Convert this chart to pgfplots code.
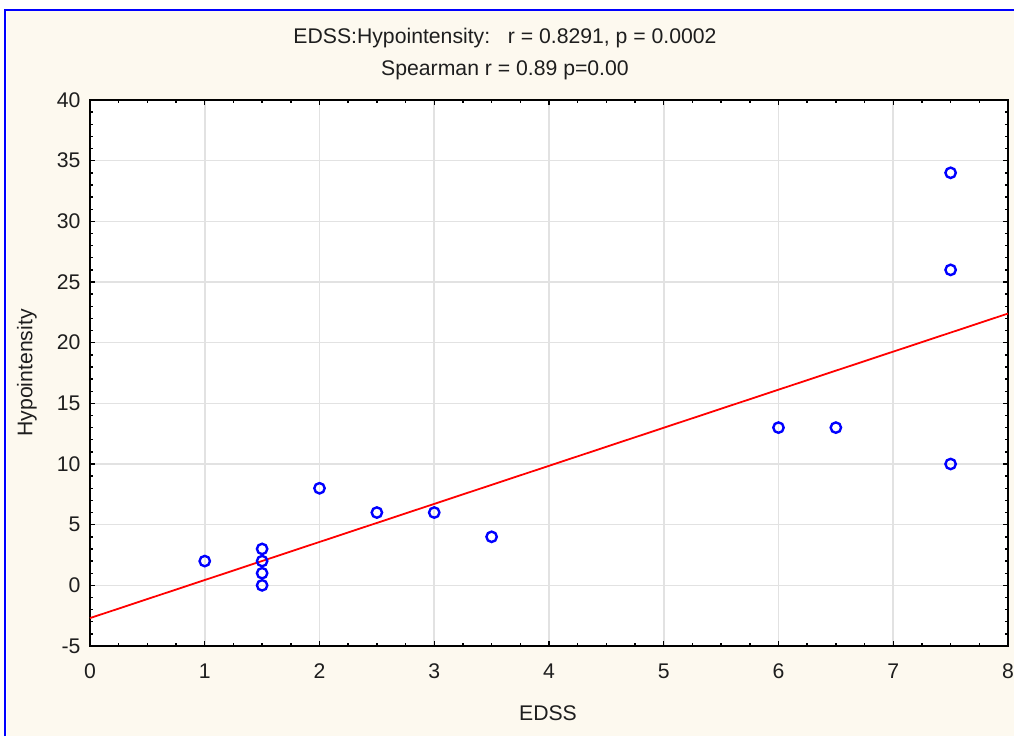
\documentclass[border=0pt]{standalone}
\usepackage{pgfplots}
\pgfplotsset{compat=1.18}
\usepackage{fontspec}
\setmainfont{Liberation Sans}
\definecolor{cream}{RGB}{253,249,239}
\definecolor{gridgray}{RGB}{226,226,226}
\definecolor{txt}{RGB}{30,30,30}
\begin{document}
\fontsize{10.6}{12}\selectfont
\begin{tikzpicture}
\fill[white] (-45pt,-45pt) rectangle (462pt,323pt);
\fill[cream] (-41.5pt,-45pt) rectangle (462pt,317.5pt);
\draw[blue, line width=1.3pt] (-42.5pt,-45pt) -- (-42.5pt,318pt) -- (462pt,318pt);
\begin{axis}[
  scale only axis,
  width=459pt, height=273pt,
  xmin=0, xmax=8, ymin=-5, ymax=40,
  xtick={0,1,...,8}, ytick={-5,0,...,40},
  minor x tick num=3, minor y tick num=4,
  tick align=inside,
  major tick length=2.5pt, minor tick length=1.5pt,
  tick style={black, line width=0.7pt},
  axis line style={black, line width=1.3pt},
  axis background/.style={fill=white},
  grid=major,
  major grid style={gridgray, line width=0.8pt},
  /pgf/number format/assume math mode=true,
  ticklabel style={font=\fontsize{10.6}{12}\selectfont, text=txt},
  xticklabel style={yshift=-5pt},
  yticklabel style={xshift=-1pt},
  clip=false,
]
\addplot[red, line width=0.9pt] coordinates {(0,-2.7) (8,22.4)};
\addplot[only marks, mark=o, mark size=2.6pt, blue, mark options={line width=1.2pt}] coordinates {
(1,2) (1.5,3) (1.5,2) (1.5,1) (1.5,0) (2,8) (2.5,6) (3,6) (3.5,4)
(6,13) (6.5,13) (7.5,34) (7.5,26) (7.5,10)
};
\end{axis}
\node[text=txt] at (207.5pt,304pt) {EDSS:Hypointensity:\ \ \ r = 0.8291, p = 0.0002};
\node[text=txt] at (207.5pt,288pt) {Spearman r = 0.89 p=0.00};
\node[rotate=90, text=txt] at (-31.5pt,136.5pt) {Hypointensity};
\node[text=txt] at (229pt,-33.5pt) {EDSS};
\pgfresetboundingbox
\path (-45pt,-45pt) rectangle (462pt,323pt);
\end{tikzpicture}
\end{document}
